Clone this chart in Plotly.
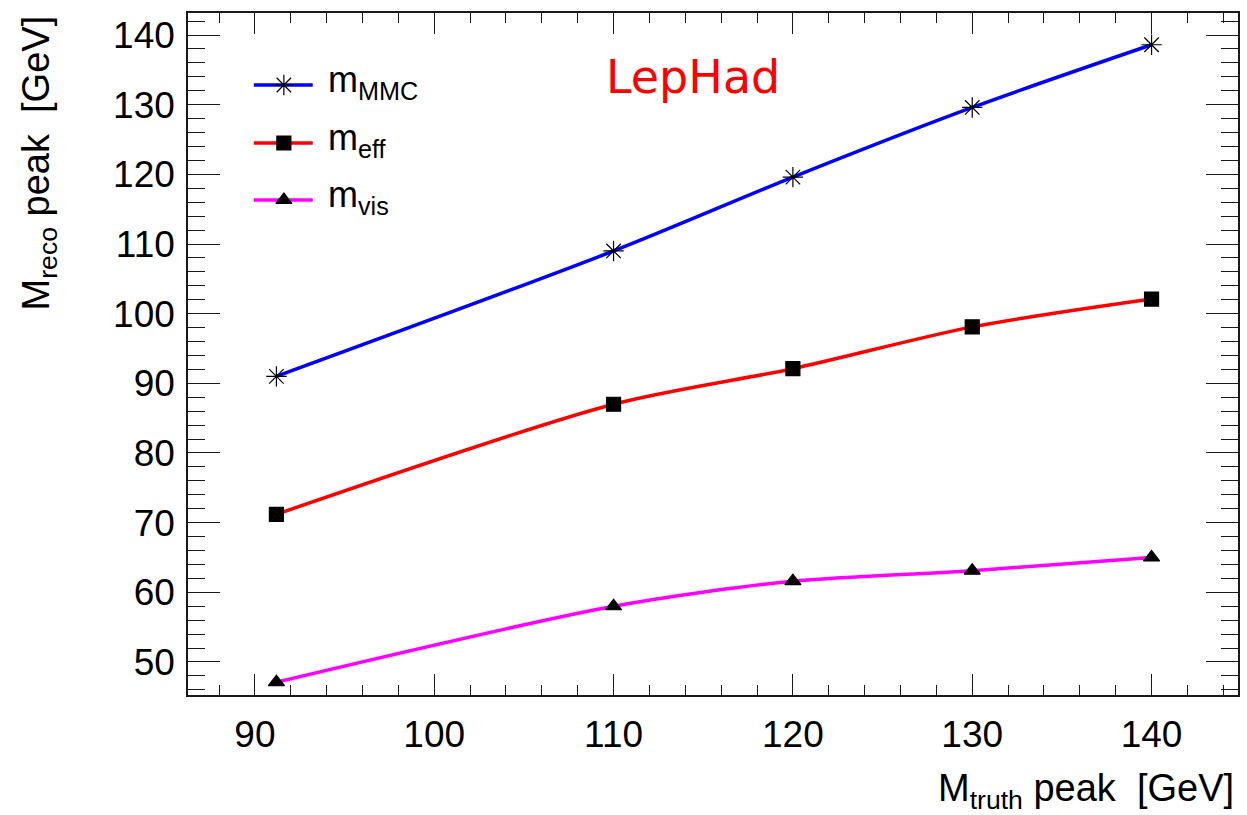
import plotly.graph_objects as go

# Generated mass peak positions [GeV]
m_truth = [91.2, 110, 120, 130, 140]

# Reconstructed peak positions [GeV]
m_mmc = [91.0, 109.0, 119.6, 129.6, 138.6]
m_eff = [71.2, 87.0, 92.1, 98.1, 102.1]
m_vis = [47.1, 58.0, 61.6, 63.1, 65.0]

series_names = ["m<sub>MMC</sub>", "m<sub>eff</sub>", "m<sub>vis</sub>"]
series_values = [m_mmc, m_eff, m_vis]
line_colors = ["#0000ff", "#ff0000", "#ff00ff"]
marker_symbols = ["asterisk-open", "square", "triangle-up"]
marker_sizes = [17, 14, 14]

FONT = "Liberation Sans, Arial, sans-serif"

fig = go.Figure()

for vals, col, sym, ms in zip(series_values, line_colors, marker_symbols, marker_sizes):
    fig.add_trace(go.Scatter(
        x=m_truth, y=vals, mode="lines",
        line=dict(color=col, width=3.5, shape="spline", smoothing=0.8),
        showlegend=False, hoverinfo="skip",
    ))
    fig.add_trace(go.Scatter(
        x=m_truth, y=vals, mode="markers",
        marker=dict(symbol=sym, size=ms, color="black",
                    line=dict(color="black", width=1.2)),
        showlegend=False,
    ))

# Legend box drawn in a normalised overlay frame
leg_x0, leg_x1, leg_xm, leg_tx = 0.0627, 0.1188, 0.0913, 0.1312
leg_rows = [0.8944, 0.8094, 0.7258]
for name, col, sym, ms, yr in zip(series_names, line_colors, marker_symbols,
                                  marker_sizes, leg_rows):
    fig.add_trace(go.Scatter(
        x=[leg_x0, leg_x1], y=[yr, yr], mode="lines",
        line=dict(color=col, width=3.5), xaxis="x2", yaxis="y2",
        showlegend=False, hoverinfo="skip",
    ))
    fig.add_trace(go.Scatter(
        x=[leg_xm], y=[yr], mode="markers",
        marker=dict(symbol=sym, size=ms, color="black",
                    line=dict(color="black", width=1.2)),
        xaxis="x2", yaxis="y2", showlegend=False, hoverinfo="skip",
    ))
    fig.add_annotation(
        x=leg_tx, y=yr + 0.005, xref="paper", yref="paper",
        text=name, showarrow=False, xanchor="left", yanchor="middle",
        font=dict(family=FONT, size=36, color="black"),
    )

axis_common = dict(
    showline=True, linecolor="#1a1a1a", linewidth=1.5, mirror="allticks",
    ticks="inside", tickcolor="#1a1a1a", tickwidth=1.3,
    showgrid=False, zeroline=False,
    tickfont=dict(family=FONT, size=37, color="black"),
)

fig.update_layout(
    width=1247, height=815,
    margin=dict(l=188, r=7, t=13, b=120),
    paper_bgcolor="white", plot_bgcolor="white",
    xaxis=dict(
        range=[86.27, 144.82], tick0=90, dtick=10, ticklen=21,
        minor=dict(dtick=2, ticklen=10, ticks="inside",
                   tickcolor="#1a1a1a", tickwidth=1.3),
        ticklabelstandoff=6,
        **axis_common,
    ),
    yaxis=dict(
        range=[45.26, 143.16], tick0=50, dtick=10, ticklen=32,
        minor=dict(dtick=2, ticklen=17, ticks="inside",
                   tickcolor="#1a1a1a", tickwidth=1.3),
        ticklabelstandoff=4,
        **axis_common,
    ),
    xaxis2=dict(range=[0, 1], overlaying="x", visible=False, domain=[0, 1]),
    yaxis2=dict(range=[0, 1], overlaying="y", visible=False, domain=[0, 1]),
)

fig.add_annotation(
    x=0.998, y=-0.102, xref="paper", yref="paper",
    text="M<sub>truth</sub> peak  [GeV]", showarrow=False,
    xanchor="right", yanchor="top",
    font=dict(family=FONT, size=38, color="black"),
)
fig.add_annotation(
    x=-0.142, y=1.0, xref="paper", yref="paper",
    text="M<sub>reco</sub> peak  [GeV]", showarrow=False, textangle=-90,
    xanchor="center", yanchor="top",
    font=dict(family=FONT, size=38, color="black"),
)
fig.add_annotation(
    x=0.481, y=0.906, xref="paper", yref="paper",
    text="LepHad", showarrow=False, xanchor="center", yanchor="middle",
    font=dict(family="DejaVu Sans, sans-serif", size=46, color="#ff0000"),
)

fig.write_html("out.html")
